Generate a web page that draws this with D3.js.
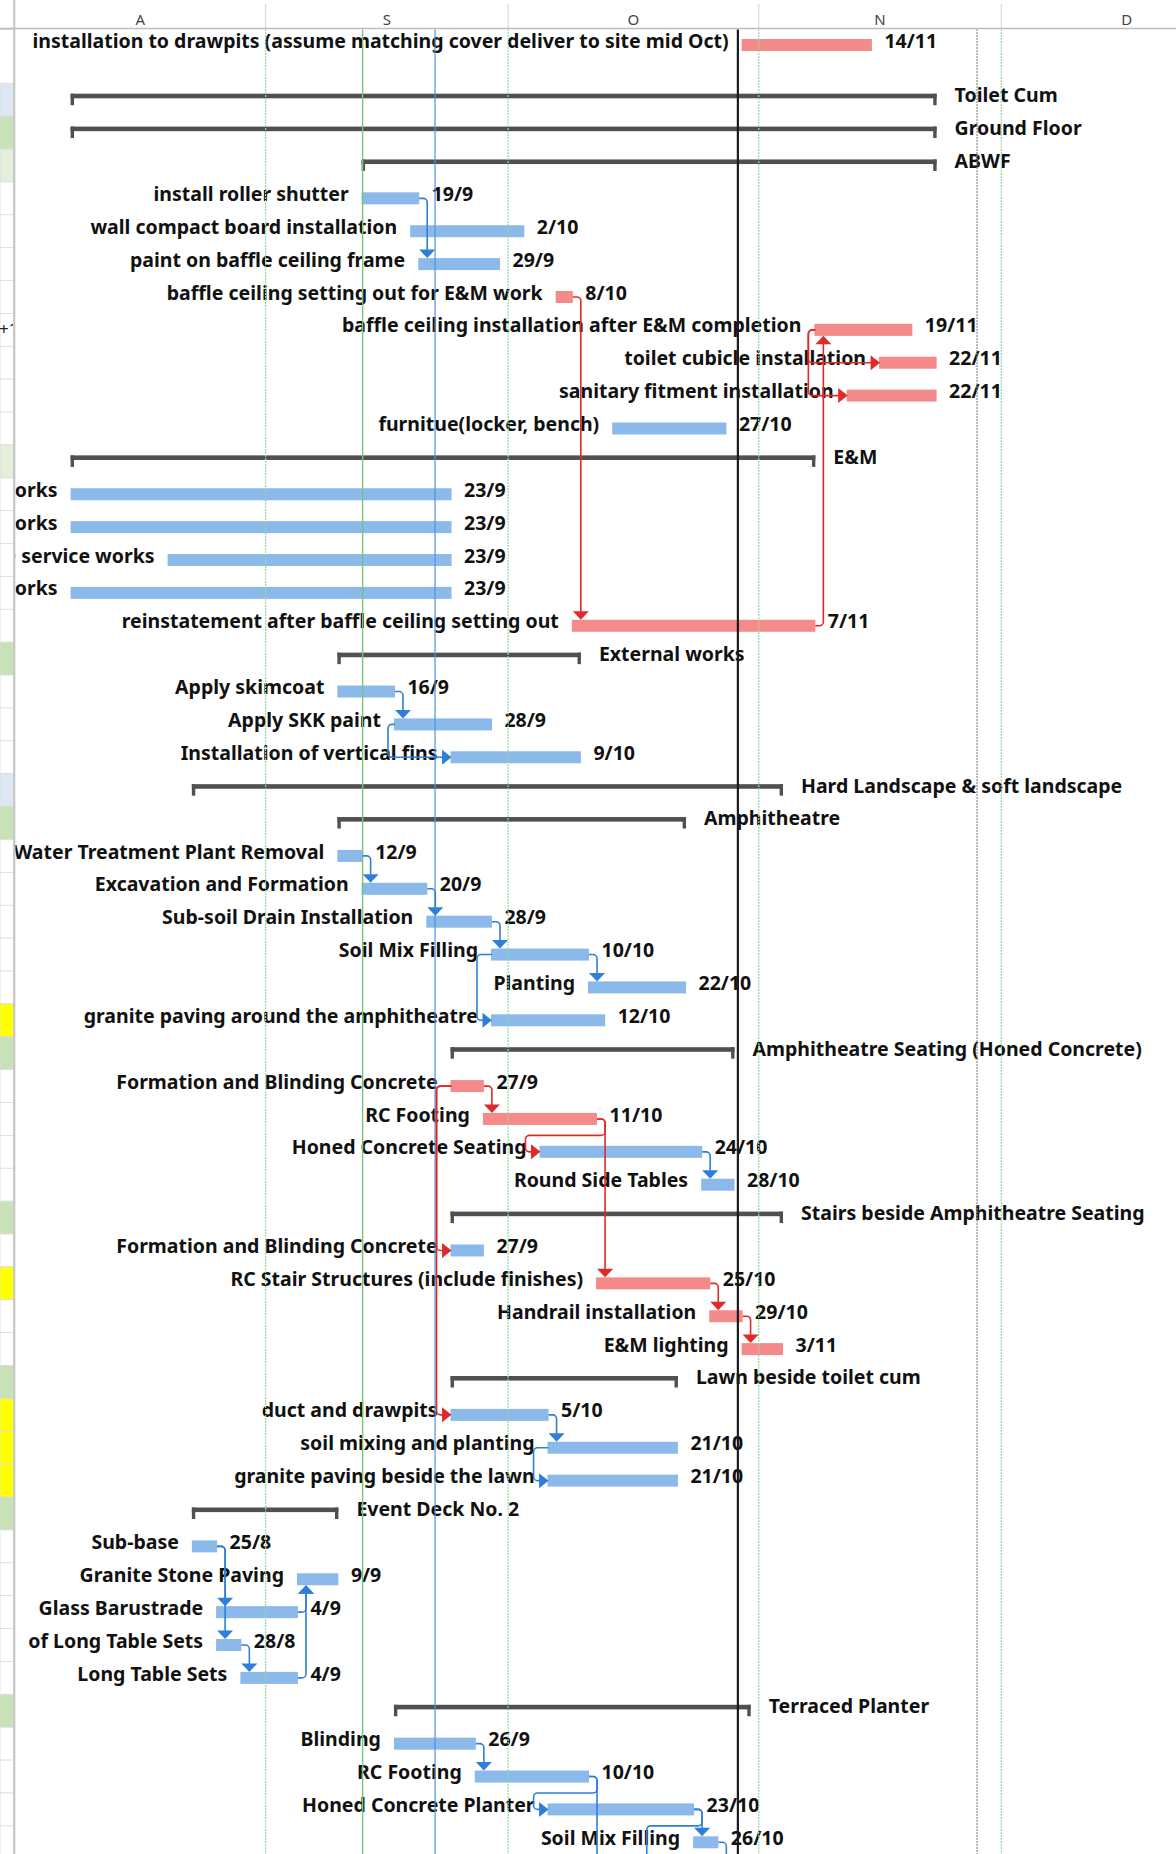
<!DOCTYPE html>
<html>
<head>
<meta charset="utf-8">
<script src="https://cdn.jsdelivr.net/npm/d3@7"></script>
<style>
  body { margin: 0; background: #fff; }
  svg { display: block; font-family: "Noto Sans", sans-serif; }
  .lbl { font-weight: 700; font-size: 19.5px; fill: #111; }
  .hdr { font-size: 15px; fill: #444; }
</style>
</head>
<body>
<svg id="chart" width="1176" height="1854"></svg>
<script>
// rows top to bottom, the row number is the position in these lists
var taskNames = [
  "installation to drawpits (assume matching cover deliver to site mid Oct)",
  "Toilet Cum", "Ground Floor", "ABWF",
  "install roller shutter", "wall compact board installation", "paint on baffle ceiling frame",
  "baffle ceiling setting out for E&M work", "baffle ceiling installation after E&M completion",
  "toilet cubicle installation", "sanitary fitment installation", "furnitue(locker, bench)",
  "E&M", "works", "works", "fire service works", "works",
  "reinstatement after baffle ceiling setting out",
  "External works", "Apply skimcoat", "Apply SKK paint", "Installation of vertical fins",
  "Hard Landscape & soft landscape", "Amphitheatre",
  "Water Treatment Plant Removal", "Excavation and Formation", "Sub-soil Drain Installation",
  "Soil Mix Filling", "Planting", "granite paving around the amphitheatre",
  "Amphitheatre Seating (Honed Concrete)", "Formation and Blinding Concrete", "RC Footing",
  "Honed Concrete Seating", "Round Side Tables",
  "Stairs beside Amphitheatre Seating", "Formation and Blinding Concrete",
  "RC Stair Structures (include finishes)", "Handrail installation", "E&M lighting",
  "Lawn beside toilet cum", "duct and drawpits", "soil mixing and planting", "granite paving beside the lawn",
  "Event Deck No. 2", "Sub-base", "Granite Stone Paving", "Glass Barustrade", "of Long Table Sets", "Long Table Sets",
  "Terraced Planter", "Blinding", "RC Footing", "Honed Concrete Planter", "Soil Mix Filling",
  "", "", ""
];
var taskStart = [
  "30/10", "8/8", "8/8", "13/9",
  "13/9", "19/9", "20/9", "7/10", "8/11", "16/11", "12/11", "14/10",
  "8/8", "8/8", "8/8", "20/8", "8/8", "9/10",
  "10/9", "10/9", "17/9", "24/9",
  "23/8", "10/9", "10/9", "13/9", "21/9", "29/9", "11/10", "29/9",
  "24/9", "24/9", "28/9", "5/10", "25/10",
  "24/9", "24/9", "12/10", "26/10", "30/10",
  "24/9", "24/9", "6/10", "6/10",
  "23/8", "23/8", "5/9", "26/8", "26/8", "29/8",
  "17/9", "17/9", "27/9", "6/10", "24/10",
  "27/10", "20/10", "11/10"
];
var taskEnd = [
  "14/11", "22/11", "22/11", "22/11",
  "19/9", "2/10", "29/9", "8/10", "19/11", "22/11", "22/11", "27/10",
  "7/11", "23/9", "23/9", "23/9", "23/9", "7/11",
  "9/10", "16/9", "28/9", "9/10",
  "3/11", "22/10", "12/9", "20/9", "28/9", "10/10", "22/10", "12/10",
  "28/10", "27/9", "11/10", "24/10", "28/10",
  "3/11", "27/9", "25/10", "29/10", "3/11",
  "21/10", "5/10", "21/10", "21/10",
  "9/9", "25/8", "9/9", "4/9", "28/8", "4/9",
  "30/10", "26/9", "10/10", "23/10", "26/10",
  "30/10", "30/10", "20/10"
];
// s = summary, b = task, r = critical task
var taskKind = "rsssbbbrrrrbsbbbbrsbbbssbbbbbbsrrbbsbrrrsbbbsbbbbbsbbbbbbb".split("");

// dependency links: predecessor row, successor row, route
var links = [
  [4, 6, "fs"], [7, 17, "fs"], [17, 8, "up"], [8, 9, "ss"], [8, 10, "ss"],
  [19, 20, "fs"], [20, 21, "ss"],
  [24, 25, "fs"], [25, 26, "fs"], [26, 27, "fs"], [27, 28, "fs"], [27, 29, "ss"],
  [31, 32, "fs"], [31, 36, "ss"], [31, 41, "ss"], [32, 33, "back"], [32, 37, "fs"],
  [33, 34, "fs"], [37, 38, "fs"], [38, 39, "fs"],
  [41, 42, "fs"], [42, 43, "ss"],
  [45, 47, "fs"], [45, 48, "fs"], [48, 49, "fs"], [47, 46, "up"], [49, 46, "up"],
  [51, 52, "fs"], [52, 53, "back"], [52, 57, "fs"], [53, 54, "fs"], [53, 56, "back"], [54, 55, "fs"]
];

var monthLetters = ["A", "S", "O", "N", "D"];
var monthStarts = ["2019-08-01", "2019-09-01", "2019-10-01", "2019-11-01", "2019-12-01", "2020-01-01"];
var markerDates = ["2019-09-13T00:00Z", "2019-09-21T23:00Z", "2019-10-29T10:00Z", "2019-11-28T00:00Z"];
var markerKinds = ["green", "blue", "today", "grey"];

// coloured cells of the sheet column on the far left
var stripBlue = [1, 22];
var stripGreen = [2, 18, 23, 30, 35, 40, 44, 50];
var stripPale = [3, 12];
var stripYellow = [29, 37, 41, 42, 43];

var W = 1176, H = 1854;
var svg = d3.select("#chart");

function parse(s) {
  var p = s.split("/");
  return new Date(Date.UTC(2019, +p[1] - 1, +p[0]));
}
var x = d3.scaleUtc()
  .domain([new Date(Date.UTC(2019, 7, 1)), new Date(Date.UTC(2019, 11, 1))])
  .range([15, 1001.3]);
var y = d3.scaleLinear().domain([0, 1, 54]).range([45, 99.7, 1842.3]);
var rowH = y(2) - y(1);

function xs(i) { return x(parse(taskStart[i])); }
function xe(i) { return x(d3.utcDay.offset(parse(taskEnd[i]), 1)); }

var rows = d3.range(taskNames.length);
var tasks = rows.filter(function(i) { return taskKind[i] != "s"; });
var sums = rows.filter(function(i) { return taskKind[i] == "s"; });

var BLUE = "#8bb9ea", RED = "#f58a8b", LBLUE = "#2e7fd8", LRED = "#df2a2a";

// ---- left strip of sheet cells
var strip = svg.append("g");
var stripColour = function(i) {
  if (stripBlue.indexOf(i) >= 0) return "#dce7f3";
  if (stripGreen.indexOf(i) >= 0) return "#c8e1b6";
  if (stripPale.indexOf(i) >= 0) return "#e3efda";
  if (stripYellow.indexOf(i) >= 0) return "#ffff00";
  return "#fff";
};
strip.selectAll("rect").data(rows.slice(1)).enter().append("rect")
  .attr("x", 0).attr("width", 13.5)
  .attr("y", function(i) { return y(i) - rowH / 2; })
  .attr("height", rowH)
  .attr("fill", stripColour)
  .attr("stroke", "#dcdcdc").attr("stroke-width", 0.8);
strip.append("line").attr("x1", 0).attr("x2", 13.5)
  .attr("y1", 29.5).attr("y2", 29.5).attr("stroke", "#dcdcdc");
svg.append("clipPath").attr("id", "stripclip").append("rect")
  .attr("x", 0).attr("y", 0).attr("width", 13).attr("height", H);
strip.append("text").attr("clip-path", "url(#stripclip)")
  .attr("x", -1).attr("y", y(8) + 5).attr("font-size", 17).attr("fill", "#222")
  .text("+1");
svg.append("line").attr("x1", 14.3).attr("x2", 14.3).attr("y1", 0).attr("y2", H)
  .attr("stroke", "#c4c4c4").attr("stroke-width", 2);

// ---- header with month letters
var months = monthStarts.map(function(s) { return new Date(s); });
var hdr = svg.append("g");
hdr.selectAll("line").data(months.slice(1, 5)).enter().append("line")
  .attr("x1", function(d) { return x(d); }).attr("x2", function(d) { return x(d); })
  .attr("y1", 4).attr("y2", 28).attr("stroke", "#d2d2d2");
hdr.selectAll("text").data(monthLetters).enter().append("text")
  .attr("class", "hdr").attr("text-anchor", "middle")
  .attr("x", function(d, i) { return (x(months[i]) + x(months[i + 1])) / 2; })
  .attr("y", 25).text(function(d) { return d; });
svg.append("line").attr("x1", 0).attr("x2", W).attr("y1", 28.5).attr("y2", 28.5)
  .attr("stroke", "#bdbdbd").attr("stroke-width", 1.5);

// ---- chart area
svg.append("clipPath").attr("id", "area").append("rect")
  .attr("x", 15.5).attr("y", 29.5).attr("width", W).attr("height", H);
var g = svg.append("g").attr("clip-path", "url(#area)");

// labels
var named = tasks.filter(function(i) { return taskNames[i] != ""; });
var lab = g.append("g").attr("class", "lbl");
lab.selectAll(".nm").data(named).enter().append("text")
  .attr("text-anchor", "end")
  .attr("x", function(i) { return xs(i) - 14; })
  .attr("y", function(i) { return y(i) + 2.6; })
  .text(function(i) { return taskNames[i]; });
lab.selectAll(".dt").data(named).enter().append("text")
  .attr("x", function(i) { return xe(i) + 12.5; })
  .attr("y", function(i) { return y(i) + 2.6; })
  .text(function(i) { return taskEnd[i]; });
lab.selectAll(".sm").data(sums).enter().append("text")
  .attr("x", function(i) { return xe(i) + 18; })
  .attr("y", function(i) { return y(i) + 2.4; })
  .text(function(i) { return taskNames[i]; });

// task bars
g.append("g").selectAll("rect").data(tasks).enter().append("rect")
  .attr("x", function(i) { return xs(i) - 1; })
  .attr("width", function(i) { return xe(i) - xs(i) + 1; })
  .attr("y", function(i) { return y(i) - 6; })
  .attr("height", 12)
  .attr("fill", function(i) { return taskKind[i] == "r" ? RED : BLUE; });

// summary bars with end ticks
var sg = g.append("g").attr("fill", "#505050");
sg.selectAll(".ln").data(sums).enter().append("rect")
  .attr("x", function(i) { return xs(i) - 1; })
  .attr("width", function(i) { return xe(i) - xs(i) + 1; })
  .attr("y", function(i) { return y(i) - 6; })
  .attr("height", 4.6);
sg.selectAll(".t0").data(sums).enter().append("rect")
  .attr("x", function(i) { return xs(i) - 1; }).attr("width", 3.4)
  .attr("y", function(i) { return y(i) - 6; }).attr("height", 11.5);
sg.selectAll(".t1").data(sums).enter().append("rect")
  .attr("x", function(i) { return xe(i) - 3.4; }).attr("width", 3.4)
  .attr("y", function(i) { return y(i) - 6; }).attr("height", 11.5);

// vertical guide lines
var mg = g.append("g");
mg.selectAll("line").data(months.slice(1, 5)).enter().append("line")
  .attr("x1", function(d) { return x(d); }).attr("x2", function(d) { return x(d); })
  .attr("y1", 29).attr("y2", H)
  .attr("stroke", "#8fdaa3").attr("stroke-width", 1.2).attr("stroke-dasharray", "2,1");
var markerStyle = {
  green: ["#79c47d", 1.4, null],
  blue: ["#4d94dc", 1.2, null],
  today: ["#1c1c1c", 2.2, null],
  grey: ["#8a8a8a", 1.2, "2,1"]
};
mg.selectAll(".mk").data(markerDates).enter().append("line")
  .attr("x1", function(d) { return x(new Date(d)); }).attr("x2", function(d) { return x(new Date(d)); })
  .attr("y1", 29).attr("y2", H)
  .attr("stroke", function(d, i) { return markerStyle[markerKinds[i]][0]; })
  .attr("stroke-width", function(d, i) { return markerStyle[markerKinds[i]][1]; })
  .attr("stroke-dasharray", function(d, i) { return markerStyle[markerKinds[i]][2]; });

// dependency links
function rounded(pts, r) {
  var p = d3.path();
  p.moveTo(pts[0][0], pts[0][1]);
  for (var k = 1; k < pts.length - 1; k++) p.arcTo(pts[k][0], pts[k][1], pts[k + 1][0], pts[k + 1][1], r);
  p.lineTo(pts[pts.length - 1][0], pts[pts.length - 1][1]);
  return p.toString();
}
var lg = g.append("g").attr("fill", "none");
links.forEach(function(l) {
  var a = l[0], b = l[1], type = l[2];
  var col = taskKind[a] == "r" ? LRED : LBLUE;
  var pts, arrow;
  var x1 = xe(a), y1 = y(a), vx = x1 + 8;
  if (type == "fs") {
    var tip = y(b) - 6;
    pts = [[x1, y1], [vx, y1], [vx, tip - 8]];
    arrow = [[vx - 8, tip - 8.5], [vx + 8, tip - 8.5], [vx, tip]];
  } else if (type == "up") {
    var tipU = y(b) + 6;
    pts = [[x1, y1], [vx, y1], [vx, tipU + 8]];
    arrow = [[vx - 8, tipU + 8.5], [vx + 8, tipU + 8.5], [vx, tipU]];
  } else if (type == "back") {
    var sx = xs(b), yb = y(a) + rowH / 2, xl = sx - 15;
    pts = [[x1, y1], [vx, y1], [vx, yb], [xl, yb], [xl, y(b)], [sx - 9, y(b)]];
    arrow = [[sx - 9.5, y(b) - 7.5], [sx - 9.5, y(b) + 7.5], [sx, y(b)]];
  } else {
    var x0 = xs(a), sx2 = xs(b), xl2 = Math.min(x0 - 7, sx2 - 15);
    pts = [[x0, y1], [xl2, y1], [xl2, y(b)], [sx2 - 9, y(b)]];
    arrow = [[sx2 - 9.5, y(b) - 7.5], [sx2 - 9.5, y(b) + 7.5], [sx2, y(b)]];
  }
  lg.append("path").attr("d", rounded(pts, 4))
    .attr("stroke", col).attr("stroke-width", 1.6);
  lg.append("path").attr("d", d3.line()(arrow) + "Z")
    .attr("fill", col).attr("stroke", "none");
});
</script>
</body>
</html>
